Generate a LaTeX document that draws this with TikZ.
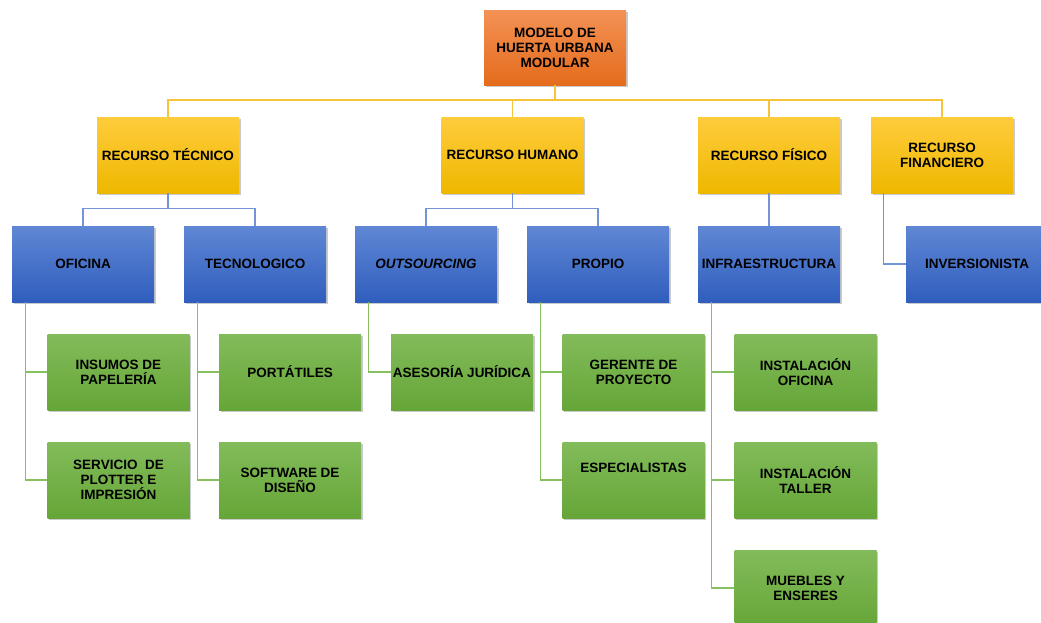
\documentclass[tikz,border=0pt]{standalone}
\usepackage{fontspec}
\setmainfont{Liberation Sans}
\usetikzlibrary{shadows}

% fills and lines of the four levels
\definecolor{orgTop}{RGB}{243,145,85}
\definecolor{orgBot}{RGB}{228,108,28}
\definecolor{ylwTop}{RGB}{255,204,60}
\definecolor{ylwBot}{RGB}{238,184,0}
\definecolor{bluTop}{RGB}{95,135,212}
\definecolor{bluBot}{RGB}{48,94,190}
\definecolor{grnTop}{RGB}{130,188,90}
\definecolor{grnBot}{RGB}{102,166,56}
\definecolor{ylwLine}{RGB}{245,195,60}
\definecolor{bluLine}{RGB}{115,148,214}
\definecolor{grnLine}{RGB}{135,192,95}

\tikzset{
  box/.style={minimum width=142pt, minimum height=76pt, inner sep=0pt,
    align=center, text=black,
    font=\fontsize{13.5}{15}\selectfont\bfseries,
    drop shadow={shadow xshift=1.5pt, shadow yshift=-1.5pt, opacity=0.35, fill=black!60}},
  rootbox/.style={box, minimum height=75pt, top color=orgTop, bottom color=orgBot},
  resbox/.style={box, top color=ylwTop, bottom color=ylwBot},
  catbox/.style={box, top color=bluTop, bottom color=bluBot},
  itembox/.style={box, top color=grnTop, bottom color=grnBot},
  ycon/.style={draw=ylwLine, line width=1.2pt},
  bcon/.style={draw=bluLine, line width=1.2pt},
  gcon/.style={draw=grnLine, line width=1.2pt},
}

\begin{document}
\begin{tikzpicture}[x=1pt, y=-1pt]
\useasboundingbox (0,0) rectangle (1041,622);

% root
\node[rootbox] (root) at (555,47.5) {MODELO DE\\HUERTA URBANA\\MODULAR};

% resources
\node[resbox] (rtec) at (168,155) {RECURSO TÉCNICO};
\node[resbox] (rhum) at (512.5,155) {RECURSO HUMANO};
\node[resbox] (rfis) at (769,155) {RECURSO FÍSICO};
\node[resbox] (rfin) at (942,155) {RECURSO\\FINANCIERO};

% categories
\node[catbox] (ofi) at (83,264) {OFICINA};
\node[catbox] (tec) at (255,264) {TECNOLOGICO};
\node[catbox] (out) at (426,264) {\itshape OUTSOURCING};
\node[catbox] (pro) at (598,264) {PROPIO};
\node[catbox] (inf) at (769,264) {INFRAESTRUCTURA};
\node[catbox] (inv) at (977,264) {INVERSIONISTA};

% items
\node[itembox] (ins) at (118.5,372) {INSUMOS DE\\PAPELERÍA};
\node[itembox] (ser) at (118.5,480) {SERVICIO\ \ DE\\PLOTTER E\\IMPRESIÓN};
\node[itembox] (por) at (290,372) {PORTÁTILES};
\node[itembox] (sof) at (290,480) {SOFTWARE DE\\DISEÑO};
\node[itembox] (ase) at (462,372) {ASESORÍA JURÍDICA};
\node[itembox] (ger) at (633.5,372) {GERENTE DE\\PROYECTO};
\node[itembox, text depth=24pt] (esp) at (633.5,480) {ESPECIALISTAS};
\node[itembox] (iof) at (805.5,372) {INSTALACIÓN\\OFICINA};
\node[itembox] (ita) at (805.5,480) {INSTALACIÓN\\TALLER};
\node[itembox] (mue) at (805.5,588) {MUEBLES Y\\ENSERES};

% root to resources
\coordinate (bus) at (555,100);
\draw[ycon] (root.south) -- (bus);
\draw[ycon] (bus) -| (rtec.north);
\draw[ycon] (bus) -| (rhum.north);
\draw[ycon] (bus) -| (rfis.north);
\draw[ycon] (bus) -| (rfin.north);

% resources to categories
\draw[bcon] (rtec.south) -- ++(0,15.5) -| (ofi.north);
\draw[bcon] (rtec.south) -- ++(0,15.5) -| (tec.north);
\draw[bcon] (rhum.south) -- ++(0,15.5) -| (out.north);
\draw[bcon] (rhum.south) -- ++(0,15.5) -| (pro.north);
\draw[bcon] (rfis.south) -- (inf.north);
\draw[bcon] ([xshift=13pt]rfin.south west) |- (inv.west);

% categories to items
\draw[gcon] ([xshift=14pt]ofi.south west) |- (ins.west);
\draw[gcon] ([xshift=14pt]ofi.south west) |- (ser.west);
\draw[gcon] ([xshift=14pt]tec.south west) |- (por.west);
\draw[gcon] ([xshift=14pt]tec.south west) |- (sof.west);
\draw[gcon] ([xshift=14pt]out.south west) |- (ase.west);
\draw[gcon] ([xshift=14pt]pro.south west) |- (ger.west);
\draw[gcon] ([xshift=14pt]pro.south west) |- (esp.west);
\draw[gcon] ([xshift=14pt]inf.south west) |- (iof.west);
\draw[gcon] ([xshift=14pt]inf.south west) |- (ita.west);
\draw[gcon] ([xshift=14pt]inf.south west) |- (mue.west);
\end{tikzpicture}
\end{document}
